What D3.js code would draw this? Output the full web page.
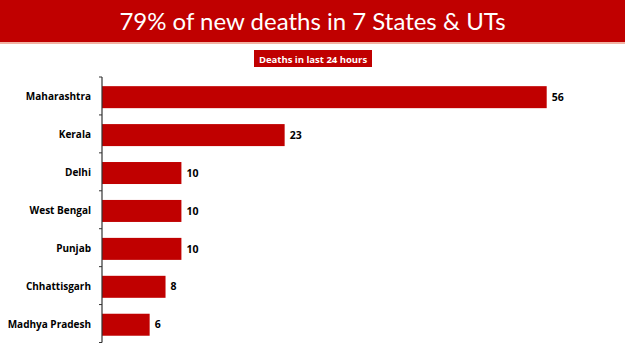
<!DOCTYPE html>
<html>
<head>
<meta charset="utf-8">
<script src="https://cdn.jsdelivr.net/npm/d3@7"></script>
<style>
  body { margin: 0; background: #fff; }
  svg { display: block; }
</style>
</head>
<body>
<svg id="chart" width="625" height="351"></svg>
<script>
// data
const states = ["Maharashtra", "Kerala", "Delhi", "West Bengal", "Punjab", "Chhattisgarh", "Madhya Pradesh"];
const deaths = [56, 23, 10, 10, 10, 8, 6];
const titleText = "79% of new deaths in 7 States & UTs";
const subtitleText = "Deaths in last 24 hours";

const red = "#c00000";
const width = 625, height = 351;
const margin = {top: 77, left: 102};

const svg = d3.select("#chart");

// header band
svg.append("rect")
  .attr("x", 0).attr("y", 0)
  .attr("width", width).attr("height", 42)
  .attr("fill", red);
svg.append("rect")
  .attr("x", 0).attr("y", 42)
  .attr("width", width).attr("height", 2)
  .attr("fill", "#f2b3a4");
svg.append("text")
  .attr("x", width / 2).attr("y", 29.5)
  .attr("text-anchor", "middle")
  .style("font-family", "Lato, 'Open Sans', sans-serif")
  .style("font-size", "24px")
  .attr("fill", "#fff")
  .text(titleText);

// subtitle box
svg.append("rect")
  .attr("x", 254).attr("y", 50)
  .attr("width", 118).attr("height", 17)
  .attr("fill", red);
svg.append("text")
  .attr("x", 313).attr("y", 62.5)
  .attr("text-anchor", "middle")
  .style("font-family", "'Open Sans', sans-serif")
  .style("font-weight", 700)
  .style("font-size", "9.5px")
  .attr("fill", "#fff")
  .text(subtitleText);

// scales
const y = d3.scaleBand()
  .domain(states)
  .range([margin.top, 342.5])
  .paddingInner(0.42)
  .paddingOuter(0.21);

const x = d3.scaleLinear()
  .domain([0, 56])
  .range([margin.left, 546.7]);

const gap = y.step() * y.paddingInner() / 2;

// bars
svg.append("g").selectAll("rect")
  .data(states)
  .enter().append("rect")
  .attr("x", x(0))
  .attr("y", function(d) { return y(d) + 1.2; })
  .attr("width", function(d, i) { return x(deaths[i]) - x(0); })
  .attr("height", y.bandwidth())
  .attr("fill", red);

// value labels
svg.append("g").selectAll("text")
  .data(states)
  .enter().append("text")
  .attr("x", function(d, i) { return x(deaths[i]) + 5; })
  .attr("y", function(d) { return y(d) + y.bandwidth() / 2 + 1.2; })
  .attr("dy", "0.35em")
  .style("font-family", "'Open Sans', sans-serif")
  .style("font-weight", 700)
  .style("font-size", "10.5px")
  .attr("fill", "#000")
  .text(function(d, i) { return deaths[i]; });

// y axis: labels
const yAxis = d3.axisLeft(y).tickSize(0).tickPadding(11);
const gy = svg.append("g")
  .attr("transform", "translate(" + margin.left + ",1.2)")
  .call(yAxis);
gy.select(".domain").remove();
gy.selectAll("text")
  .style("font-family", "'Open Sans', sans-serif")
  .style("font-weight", 700)
  .style("font-size", "10px")
  .attr("fill", "#000");

// axis line and boundary ticks
const yTop = y.range()[0], yBottom = y.range()[1];
svg.append("line")
  .attr("x1", margin.left).attr("x2", margin.left)
  .attr("y1", yTop).attr("y2", yBottom)
  .attr("stroke", "#333").attr("stroke-width", 1.2);

const bounds = states.map(function(d) { return y(d) + y.bandwidth() + gap; });
svg.append("g").selectAll("line")
  .data(bounds)
  .enter().append("line")
  .attr("x1", margin.left - 3).attr("x2", margin.left)
  .attr("y1", function(d) { return d; })
  .attr("y2", function(d) { return d; })
  .attr("stroke", "#333").attr("stroke-width", 1);
svg.append("line")
  .attr("x1", margin.left - 3).attr("x2", margin.left)
  .attr("y1", yTop).attr("y2", yTop)
  .attr("stroke", "#333").attr("stroke-width", 1);
</script>
</body>
</html>
